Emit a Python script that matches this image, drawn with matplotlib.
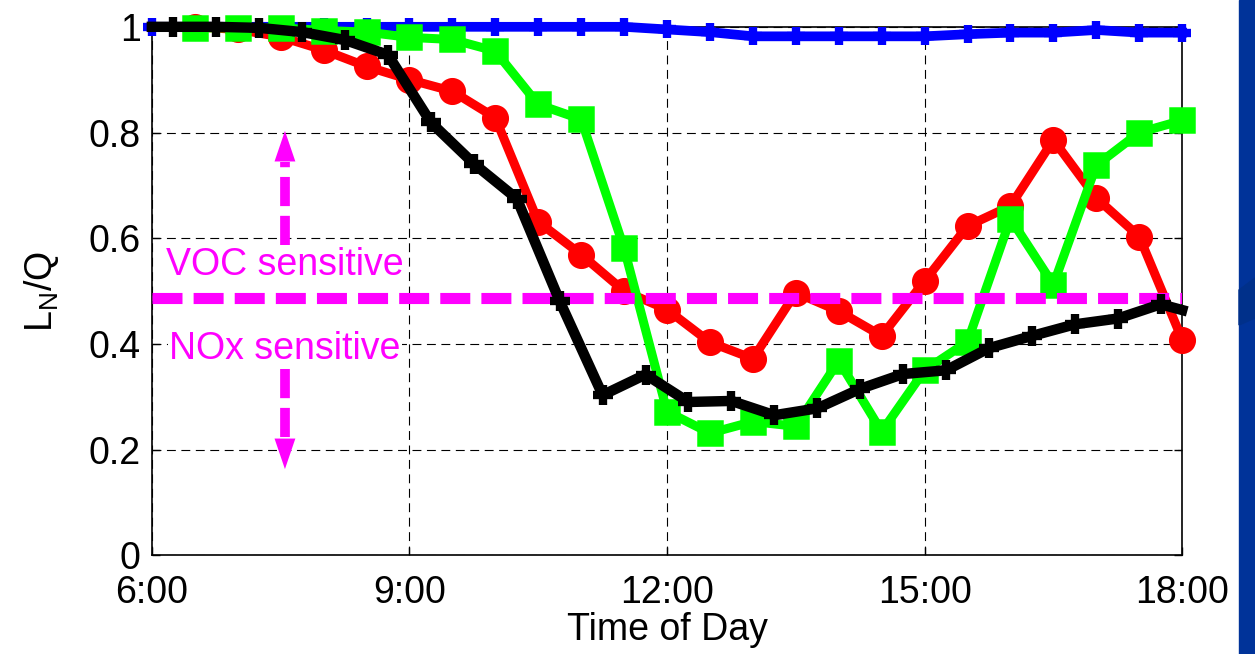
import numpy as np
import matplotlib
matplotlib.use("Agg")
import matplotlib.pyplot as plt
from matplotlib.patches import Rectangle, Polygon

plt.rcParams['font.family'] = ['Liberation Sans', 'DejaVu Sans']

# half-hour sampling for blue, 6:00 .. 18:00
t_half = np.arange(6.0, 18.01, 0.5)
# red and green start at 6:30
t_red = np.arange(6.5, 18.01, 0.5)
t_green = np.arange(6.5, 18.01, 0.5)
# black is offset by a quarter hour, plus the two end points
t_black = np.concatenate([[6.0], np.arange(6.25, 17.8, 0.5), [18.0]])

blue_vals = [1.0, 1.0, 1.0, 1.0, 1.0, 1.0, 1.0, 1.0, 1.0, 1.0, 1.0, 1.0,
             0.995, 0.99, 0.982, 0.982, 0.982, 0.982, 0.982, 0.986, 0.989,
             0.989, 0.994, 0.989, 0.989]
red_vals = [1.0, 0.995, 0.981, 0.956, 0.925, 0.900, 0.878, 0.828, 0.631,
            0.569, 0.500, 0.465, 0.403, 0.372, 0.497, 0.462, 0.415, 0.519,
            0.623, 0.661, 0.786, 0.676, 0.603, 0.408]
green_vals = [0.998, 0.998, 0.998, 0.993, 0.99, 0.98, 0.976, 0.954, 0.853,
              0.825, 0.581, 0.272, 0.231, 0.253, 0.244, 0.368, 0.234, 0.350,
              0.404, 0.637, 0.512, 0.738, 0.800, 0.823]
black_vals = [1.0, 1.0, 1.0, 0.998, 0.99, 0.975, 0.947, 0.819, 0.741, 0.675,
              0.481, 0.303, 0.342, 0.290, 0.292, 0.265, 0.278, 0.315, 0.343,
              0.350, 0.392, 0.415, 0.437, 0.448, 0.475, 0.464]

threshold = 0.486
x_ticks = [6, 9, 12, 15, 18]
x_ticklabels = ['6:00', '9:00', '12:00', '15:00', '18:00']
y_ticks = [0, 0.2, 0.4, 0.6, 0.8, 1.0]
y_ticklabels = ['0', '0.2', '0.4', '0.6', '0.8', '1']

arrow_x = 7.55
up_arrow = (0.588, 0.745, 0.803)     # shaft start, head base, tip
down_arrow = (0.352, 0.222, 0.163)

FS = 27
MAG = '#ff00ff'

fig = plt.figure(figsize=(12.55, 6.54), dpi=100)
ax = fig.add_axes([0.121, 0.151, 0.821, 0.808])

# dark blue slide strip at the right edge
fig.patches.append(Rectangle((1239 / 1255, 0), 16 / 1255, 1, transform=fig.transFigure,
                             color='#003399', zorder=0))
fig.patches.append(Polygon([[1239 / 1255, 1 - 290 / 654], [1, 1 - 278 / 654],
                            [1, 1 - 318 / 654], [1239 / 1255, 1 - 325 / 654]],
                           transform=fig.transFigure, color='#00308a', zorder=0))

ax.plot(t_half, blue_vals, color='#0000ff', lw=7, marker='+', ms=13, mew=6,
        clip_on=False, zorder=3)
ax.plot(t_red, red_vals, color='#ff0000', lw=6.5, marker='o', ms=10.5, mew=9,
        mfc='none', clip_on=False, zorder=4)
ax.plot(t_green, green_vals, color='#00ff00', lw=6.5, marker='s', ms=10.5, mew=9,
        mfc='none', clip_on=False, zorder=5)
ax.plot([6, 18], [threshold, threshold], color=MAG, lw=8,
        ls=(0, (2.7, 1.0)), zorder=6, solid_capstyle='butt', dash_capstyle='butt')
ax.plot(t_black, black_vals, color='black', lw=7.5, marker='+', ms=14, mew=6,
        markevery=slice(1, -1), clip_on=False, zorder=7)

# dashed arrows
for start, base, tip in (up_arrow, down_arrow):
    ax.plot([arrow_x, arrow_x], [start, base], color=MAG, lw=7,
            ls=(0, (3.0, 1.0)), dash_capstyle='butt', zorder=6)
    ax.annotate('', xy=(arrow_x, tip), xytext=(arrow_x, base),
                arrowprops=dict(arrowstyle='-|>,head_length=2.2,head_width=0.75',
                                color=MAG, lw=0, shrinkA=0, shrinkB=0), zorder=6)

ax.text(arrow_x, 0.549, 'VOC sensitive', color=MAG, fontsize=FS, ha='center',
        va='center', zorder=6,
        bbox=dict(facecolor='white', edgecolor='none', pad=1))
ax.text(arrow_x, 0.39, 'NOx sensitive', color=MAG, fontsize=FS, ha='center',
        va='center', zorder=6,
        bbox=dict(facecolor='white', edgecolor='none', pad=1))

ax.set_xlim(6, 18)
ax.set_ylim(0, 1)
ax.set_xticks(x_ticks)
ax.set_xticklabels(x_ticklabels)
ax.set_yticks(y_ticks)
ax.set_yticklabels(y_ticklabels)
ax.tick_params(direction='in', top=True, right=True, length=6, width=1,
               labelsize=FS)
ax.tick_params(axis='x', pad=14)
ax.tick_params(axis='y', pad=8)
ax.grid(True, color='black', lw=0.8, ls=(0, (8, 5)))
ax.set_axisbelow(True)
for s in ax.spines.values():
    s.set_linewidth(1.2)
    s.set_zorder(2)

ax.set_xlabel('Time of Day', fontsize=FS, labelpad=1)
ax.set_ylabel(r'L$_\mathregular{N}$/Q', fontsize=FS, labelpad=20)

fig.savefig('out.png', dpi=100)
